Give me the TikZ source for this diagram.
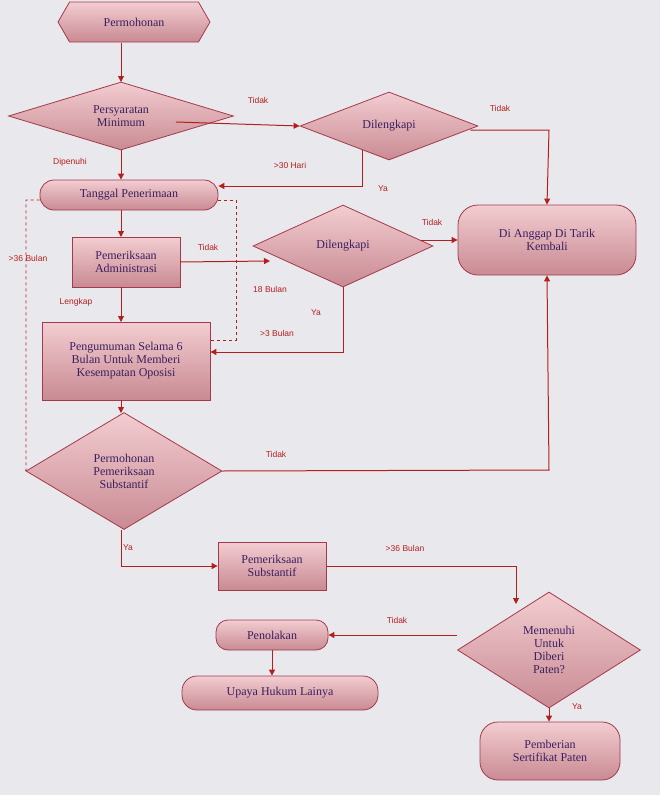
\documentclass[tikz,border=0pt]{standalone}
\usepackage{fontspec}
\setmainfont{Liberation Serif}
\newfontfamily\lab{Liberation Sans}
\usetikzlibrary{shapes.geometric,shapes.symbols,arrows.meta}
\definecolor{bg}{HTML}{E9E9ED}
\definecolor{bd}{HTML}{A33A4A}
\definecolor{ftop}{HTML}{F2CDD1}
\definecolor{fbot}{HTML}{C98A93}
\definecolor{tx}{HTML}{3A1F5E}
\definecolor{ar}{HTML}{B41E1E}
\tikzset{
 base/.style={draw=bd,line width=0.8pt,top color=ftop,bottom color=fbot,text=tx,font=\fontsize{12}{13}\selectfont,align=center,inner sep=0pt},
 dia/.style={base,diamond,minimum width=#1},
 boxn/.style={base,rectangle},
 pill/.style={base,rounded corners=12pt},
 conn/.style={draw=ar,line width=1pt,-{Triangle[length=6pt,width=6pt]}},
 dconn/.style={draw=ar,line width=0.9pt,dashed},
 lb/.style={text=ar,font=\lab\fontsize{8.5}{9}\selectfont,inner sep=1pt}
}
\begin{document}
\begin{tikzpicture}[x=1pt,y=-1pt]
\useasboundingbox[fill=bg] (0,0) rectangle (660,795);
\node[base,signal,signal to=west and east,signal pointer angle=120,minimum width=152,minimum height=40] (perm) at (134,22) {Permohonan};
\node[dia=225,minimum height=68,shape aspect=3.3] (pers) at (121,116) {Persyaratan\\Minimum};
\node[dia=178,minimum height=68,shape aspect=2.6] (dil1) at (389,126) {Dilengkapi};
\node[pill,minimum width=178,minimum height=30,rounded corners=14pt] (tgl) at (129,195) {Tanggal Penerimaan};
\node[boxn,minimum width=108,minimum height=50] (adm) at (126,262) {Pemeriksaan\\Administrasi};
\node[dia=180,minimum height=82,shape aspect=2.2] (dil2) at (343,246) {Dilengkapi};
\node[pill,minimum width=178,minimum height=70,rounded corners=20pt] (tarik) at (547,240) {Di Anggap Di Tarik\\Kembali};
\node[boxn,minimum width=168,minimum height=78] (peng) at (126,361) {Pengumuman Selama 6\\Bulan Untuk Memberi\\Kesempatan Oposisi};
\node[dia=196,minimum height=117,shape aspect=1.68] (pps) at (124,471) {Permohonan\\Pemeriksaan\\Substantif};
\node[boxn,minimum width=108,minimum height=48] (ps) at (272,566) {Pemeriksaan\\Substantif};
\node[dia=183,minimum height=116,shape aspect=1.58] (mem) at (549,650) {Memenuhi\\Untuk\\Diberi\\Paten?};
\node[pill,minimum width=112,minimum height=30] (tol) at (272,635) {Penolakan};
\node[pill,minimum width=196,minimum height=34,rounded corners=15pt] (upa) at (280,693) {Upaya Hukum Lainya};
\node[pill,minimum width=140,minimum height=58,rounded corners=18pt] (ser) at (550,751) {Pemberian\\Sertifikat Paten};
\coordinate (c1) at (549,130);
\coordinate (c2) at (362,186);
\coordinate (c3) at (343,352);
\coordinate (c4) at (549,470);
\coordinate (c5) at (121,566);
\coordinate (c6) at (516,566);
\coordinate (d1) at (26,200);
\coordinate (d2) at (236,200);
\coordinate (d3) at (236,340);
\coordinate (e1) at (270,261);
\draw[conn] (121,43) -- (121,82);
\draw[conn] (pers.east|-0,122) ++(-58,0) -- (dil1.west);
\draw[conn] (dil1.east) ++(-8,4) -- (c1) -- (tarik.north);
\draw[conn] (dil1.south) ++(-27,-10) -- (c2) -- (tgl.east|-c2);
\draw[conn] (pers.south) -- (tgl.north-|pers.south);
\draw[conn] (121,210) -- (121,237);
\draw[conn] (adm.east) -- (e1);
\draw[conn] (dil2.east) ++(-12,-6) -- (tarik.west);
\draw[conn] (dil2.south) -- (c3) -- (peng.east|-c3);
\draw[conn] (121,287) -- (121,322);
\draw[conn] (121,400) -- (121,413);
\draw[conn] (pps.east) -- (c4) -- (tarik.south);
\draw[conn] (pps.south) ++(-3,0) -- (c5) -- (ps.west);
\draw[conn] (ps.east) -- (c6) -- (516,604);
\draw[conn] (mem.west) ++(0,-15) -- (tol.east);
\draw[conn] (tol.south) -- (upa.north-|tol.south);
\draw[conn] (mem.south) -- (ser.north-|mem.south);
\draw[dconn] (tgl.west) ++(0,5) -- (d1) -- (26,470) -- (pps.west);
\draw[dconn] (tgl.east) ++(0,5) -- (d2) -- (d3) -- (peng.east|-d3);
\node[lb] (l1) at (258,100) {Tidak};
\node[lb] (l2) at (500,108) {Tidak};
\node[lb] (l3) at (290,165) {>30 Hari};
\node[lb] (l4) at (383,189) {Ya};
\node[lb] (l5) at (70,162) {Dipenuhi};
\node[lb] (l6) at (208,247) {Tidak};
\node[lb] (l7) at (432,222) {Tidak};
\node[lb] (l8) at (270,289) {18 Bulan};
\node[lb] (l9) at (316,313) {Ya};
\node[lb] (l10) at (277,333) {>3 Bulan};
\node[lb] (l11) at (76,302) {Lengkap};
\node[lb] (l12) at (28,258) {>36 Bulan};
\node[lb] (l13) at (276,454) {Tidak};
\node[lb] (l14) at (128,548) {Ya};
\node[lb] (l15) at (405,548) {>36 Bulan};
\node[lb] (l16) at (397,620) {Tidak};
\node[lb] (l17) at (577,707) {Ya};
\end{tikzpicture}
\end{document}
